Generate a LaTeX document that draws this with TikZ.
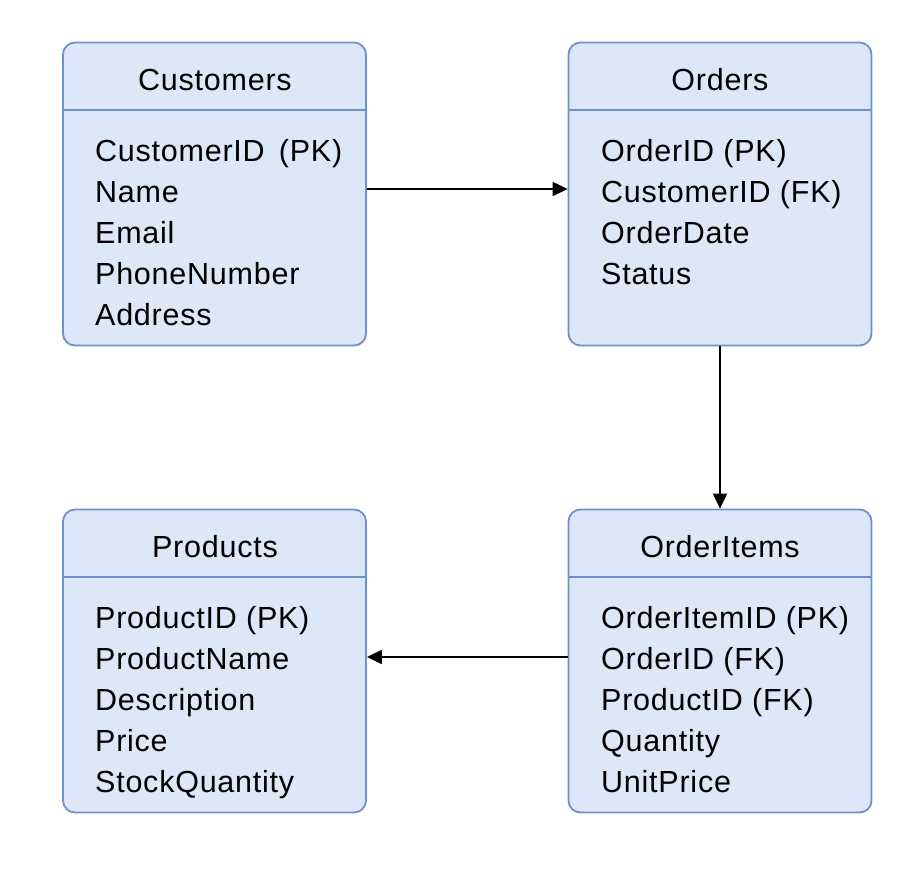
\documentclass[tikz,border=0pt]{standalone}
\usepackage{fontspec}
\setmainfont{Liberation Sans}[LetterSpace=2.5]
\usetikzlibrary{arrows.meta}
\definecolor{boxfill}{HTML}{DCE7F8}
\definecolor{boxline}{HTML}{7090C8}
\tikzset{
 table/.style={draw=boxline, fill=boxfill, line width=1.8pt, rounded corners=12pt, minimum width=303pt, minimum height=303pt, inner sep=0pt},
 attr/.style={anchor=base west, inner sep=0pt, font=\fontsize{30.5}{37}\selectfont},
 title/.style={anchor=base, inner sep=0pt, font=\fontsize{30.5}{37}\selectfont},
 sep/.style={draw=boxline, line width=1.4pt},
 link/.style={line width=2pt, -{Triangle[length=15pt,width=14pt]}},
}
\begin{document}
\begin{tikzpicture}[x=1pt,y=-1pt]
\useasboundingbox[fill=white] (0,0) rectangle (923,873);
% tables
\node[table] (cust) at (214.5,194) {};
\node[table] (ord) at (720,194) {};
\node[table] (prod) at (214.5,661) {};
\node[table] (item) at (720,661) {};
% separators
\coordinate (h1) at (0,110);
\coordinate (h2) at (0,577);
\draw[sep] (cust.west |- h1) -- (cust.east |- h1);
\draw[sep] (ord.west |- h1) -- (ord.east |- h1);
\draw[sep] (prod.west |- h2) -- (prod.east |- h2);
\draw[sep] (item.west |- h2) -- (item.east |- h2);
% titles
\node[title] (custT) at (215,90) {Customers};
\node[title] (ordT) at (720,90) {Orders};
\node[title] (prodT) at (215,557) {Products};
\node[title] (itemT) at (720,557) {OrderItems};
% attributes
\foreach \t [count=\i] in {CustomerID\hspace{5pt} (PK),Name,Email,PhoneNumber,Address}
  \node[attr] (c\i) at (95,{120+41*\i}) {\t};
\foreach \t [count=\i] in {OrderID (PK),CustomerID (FK),OrderDate,Status}
  \node[attr] (o\i) at (601,{120+41*\i}) {\t};
\foreach \t [count=\i] in {ProductID (PK),ProductName,Description,Price,StockQuantity}
  \node[attr] (p\i) at (95,{587+41*\i}) {\t};
\foreach \t [count=\i] in {OrderItemID (PK),OrderID (FK),ProductID (FK),Quantity,UnitPrice}
  \node[attr] (q\i) at (601,{587+41*\i}) {\t};
% connectors
\coordinate (y1) at (0,189);
\coordinate (y3) at (0,657);
\draw[link] (cust.east |- y1) -- (ord.west |- y1);
\draw[link] (ord.south) -- (item.north);
\draw[link] (item.west |- y3) -- (prod.east |- y3);
\end{tikzpicture}
\end{document}
